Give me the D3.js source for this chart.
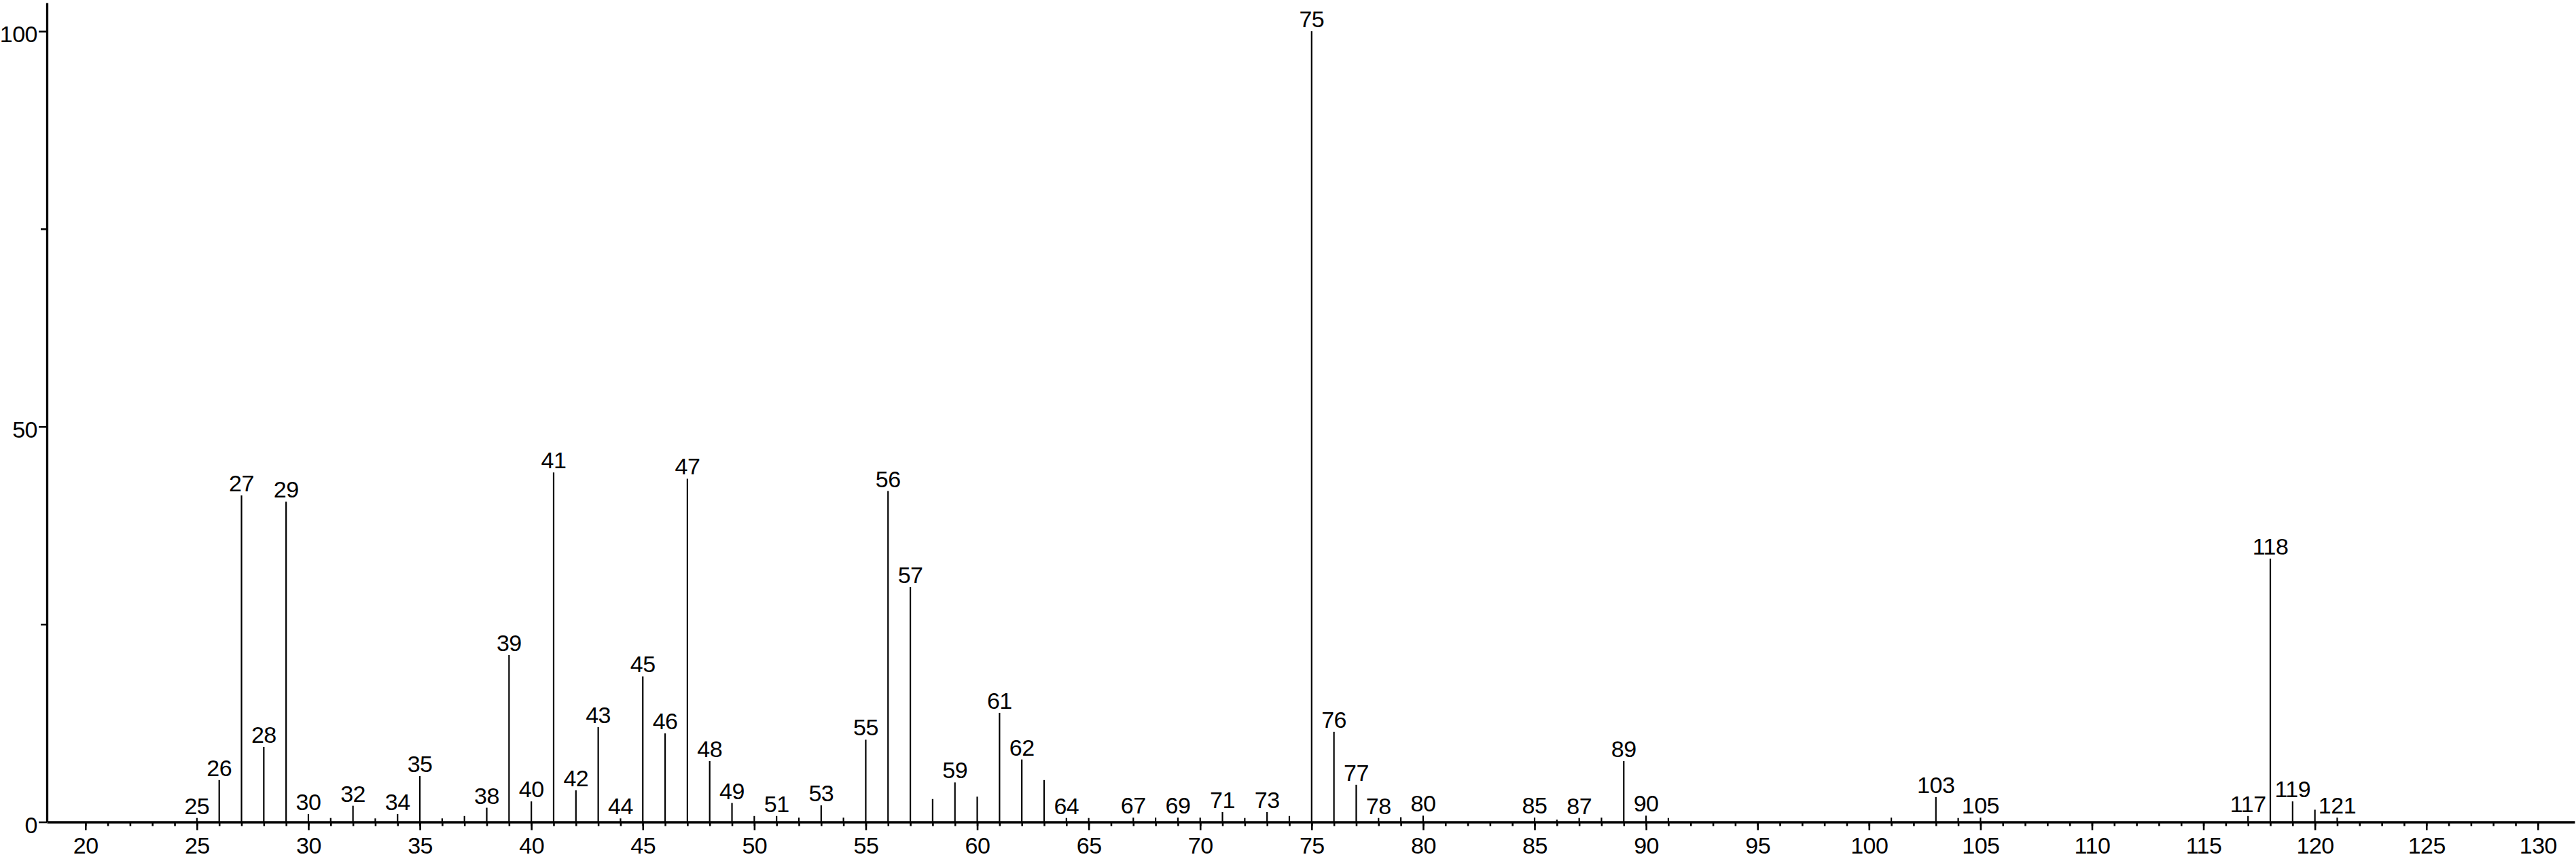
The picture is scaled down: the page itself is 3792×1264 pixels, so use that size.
<!DOCTYPE html>
<html>
<head>
<meta charset="utf-8">
<script src="https://cdn.jsdelivr.net/npm/d3@7"></script>
<style>
  html, body { margin: 0; padding: 0; background: #ffffff; }
  svg { display: block; }
  text { font-family: "Liberation Sans", Arial, Helvetica, sans-serif; fill: #000; letter-spacing: -0.5px; }
</style>
</head>
<body>
<svg id="chart" width="3792" height="1264"></svg>
<script>
// ---- Data (m/z and relative intensity) ----
const masses = [25, 26, 27, 28, 29, 30, 31, 32, 33, 34, 35, 36, 37, 38, 39, 40,
  41, 42, 43, 44, 45, 46, 47, 48, 49, 50, 51, 52, 53, 54, 55, 56, 57, 58, 59, 60,
  61, 62, 63, 64, 65, 67, 68, 69, 70, 71, 72, 73, 74, 75, 76, 77, 78, 79, 80,
  85, 86, 87, 88, 89, 90, 91, 101, 103, 104, 105, 117, 118, 119, 120, 121];
const intensities = [0.5, 5.3, 41.3, 9.5, 40.5, 1.0, 0.5, 2.05, 0.45, 1.0, 5.8, 0.45, 0.75, 1.8, 21.1, 2.6,
  44.2, 4.0, 12.0, 0.45, 18.4, 11.2, 43.4, 7.7, 2.4, 0.75, 0.75, 0.55, 2.1, 0.55, 10.4, 41.85, 29.7, 2.9, 5.0, 3.2,
  13.8, 7.9, 5.3, 0.5, 0.5, 0.55, 0.55, 0.55, 0.55, 1.25, 0.5, 1.25, 0.75, 100, 11.4, 4.7, 0.5, 0.6, 0.8,
  0.55, 0.3, 0.5, 0.55, 7.7, 0.8, 0.5, 0.55, 3.15, 0.5, 0.55, 0.75, 33.3, 2.6, 1.55, 0.55];
const labeledMasses = [25, 26, 27, 28, 29, 30, 32, 34, 35, 38, 39, 40, 41, 42, 43, 44,
  45, 46, 47, 48, 49, 51, 53, 55, 56, 57, 59, 61, 62, 64, 67, 69, 71, 73, 75, 76, 77,
  78, 80, 85, 87, 89, 90, 103, 105, 117, 118, 119, 121];

// ---- Tick labels ----
const xMajorTicks = [20, 25, 30, 35, 40, 45, 50, 55, 60, 65, 70, 75, 80, 85, 90, 95,
  100, 105, 110, 115, 120, 125, 130];
const xMinorTicks = d3.range(20, 131);
const yMajorTicks = [0, 50, 100];
const yMinorTicks = [25, 75];

const peaks = masses.map((m, i) => ({ m: m, v: intensities[i] }));
const labeledSet = new Set(labeledMasses);

const svg = d3.select("#chart");
const FONT = 34;

const x = d3.scaleLinear().domain([18.27, 131.65]).range([69, 3790]);
const y = d3.scaleLinear().domain([0, 103.6]).range([1209.5, 4]);

// ---- X axis ----
const xMinor = svg.append("g")
  .attr("transform", `translate(0,${y(0)})`)
  .call(d3.axisBottom(x).tickValues(xMinorTicks).tickSize(6).tickSizeOuter(0).tickFormat(""));
xMinor.select(".domain").attr("stroke-width", 3.3);
xMinor.selectAll(".tick line").attr("stroke-width", 2.6);

const xMajor = svg.append("g")
  .attr("transform", `translate(0,${y(0)})`)
  .call(d3.axisBottom(x).tickValues(xMajorTicks).tickSize(12).tickSizeOuter(0).tickPadding(10));
xMajor.select(".domain").remove();
xMajor.selectAll(".tick line").attr("stroke-width", 2.6);
xMajor.selectAll(".tick text").attr("font-size", FONT).style("font-family", '"Liberation Sans", Arial, sans-serif');

// ---- Y axis ----
const yMinor = svg.append("g")
  .attr("transform", `translate(${x.range()[0]},0)`)
  .call(d3.axisLeft(y).tickValues(yMinorTicks).tickSize(9).tickSizeOuter(0).tickFormat(""));
yMinor.select(".domain").attr("stroke-width", 3.3);
yMinor.selectAll(".tick line").attr("stroke-width", 2.6);

const yMajor = svg.append("g")
  .attr("transform", `translate(${x.range()[0]},0)`)
  .call(d3.axisLeft(y).tickValues(yMajorTicks).tickSize(12).tickSizeOuter(0).tickPadding(2));
yMajor.select(".domain").remove();
yMajor.selectAll(".tick line").attr("stroke-width", 2.6);
yMajor.selectAll(".tick text").attr("font-size", FONT).attr("dy", "0.47em")
  .style("font-family", '"Liberation Sans", Arial, sans-serif');

// ---- Peaks ----
svg.append("g").selectAll("line")
  .data(peaks)
  .join("line")
  .attr("x1", d => x(d.m)).attr("x2", d => x(d.m))
  .attr("y1", y(0)).attr("y2", d => y(d.v))
  .attr("stroke", "#000").attr("stroke-width", 2.2);

// ---- Peak labels ----
svg.append("g").selectAll("text")
  .data(peaks.filter(d => labeledSet.has(d.m)))
  .join("text")
  .attr("x", d => x(d.m))
  .attr("y", d => y(d.v) - 6)
  .attr("text-anchor", "middle")
  .attr("font-size", FONT)
  .text(d => d.m);
</script>
</body>
</html>
